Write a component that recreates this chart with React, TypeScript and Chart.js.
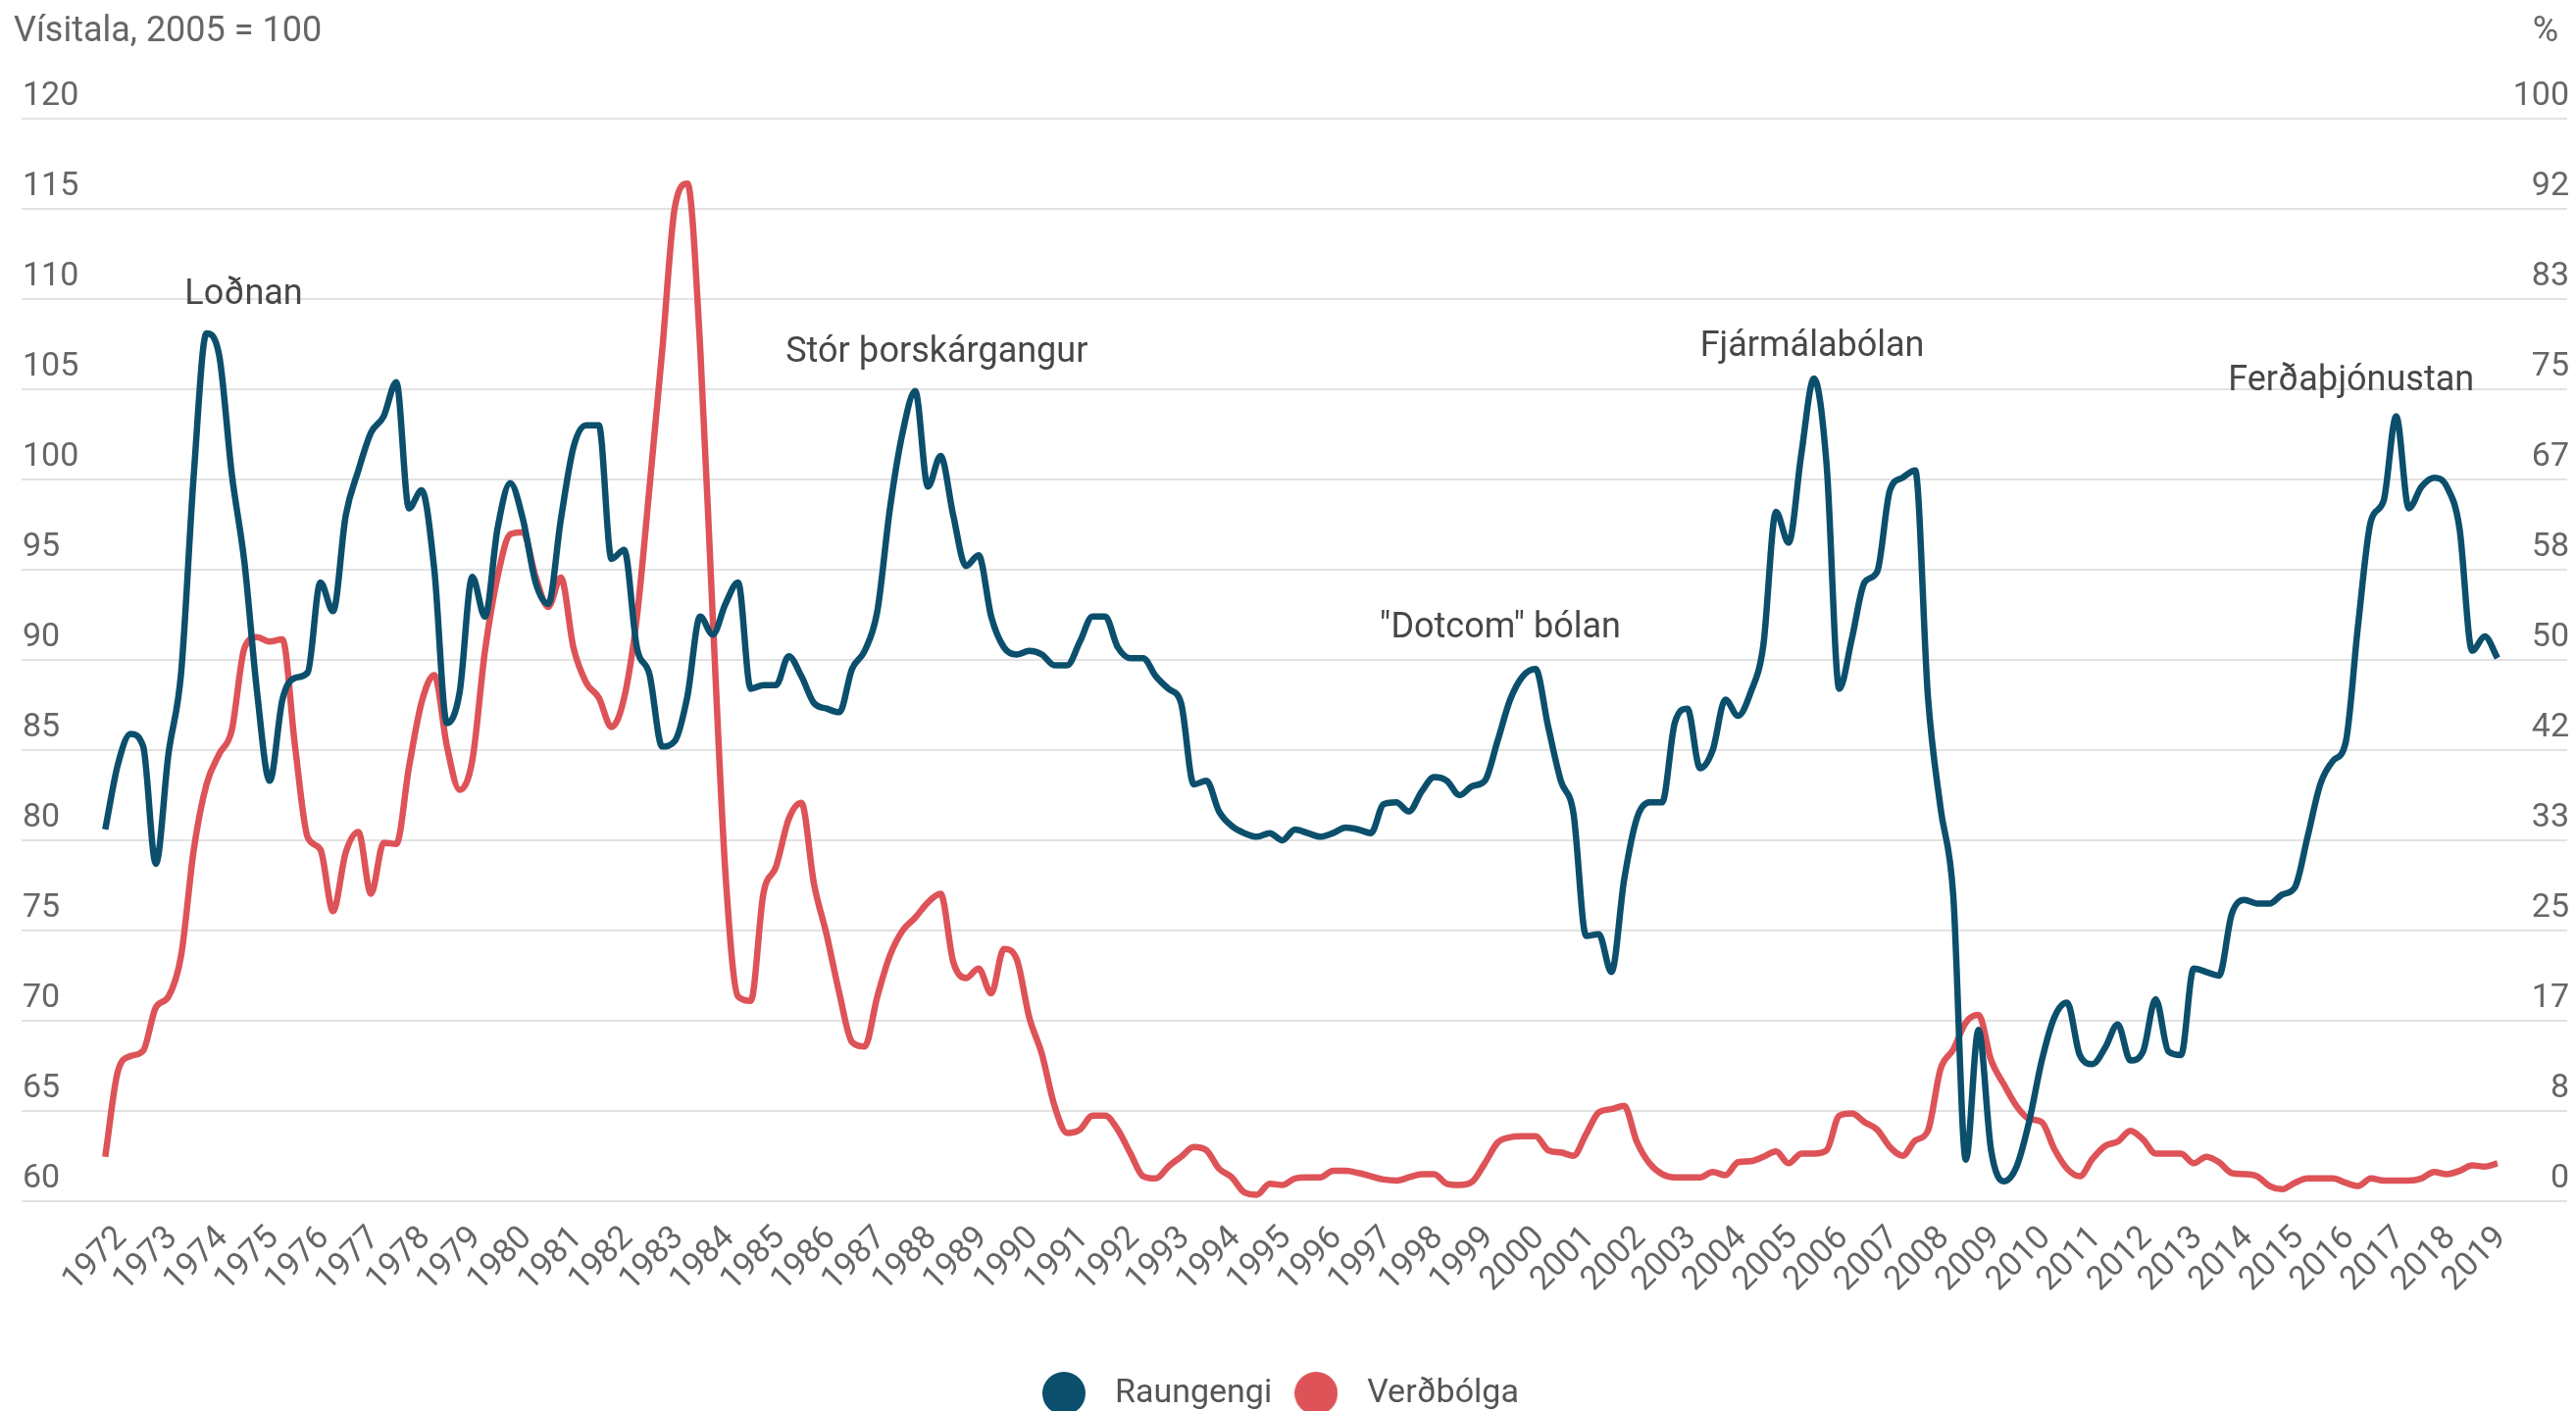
import React, { useEffect, useRef } from "react";
import { Chart, registerables } from "chart.js";

Chart.register(...registerables);

// ---- Data (quarterly, starting 1972 Q1) ----
const START_YEAR = 1972;
const STEPS_PER_YEAR = 4;

const seriesLabels = ["Raungengi", "Verðbólga"];
const seriesColors = ["#0b4f6c", "#dd5357"];

const yearTicks = [
  1972, 1973, 1974, 1975, 1976, 1977, 1978, 1979, 1980, 1981, 1982, 1983,
  1984, 1985, 1986, 1987, 1988, 1989, 1990, 1991, 1992, 1993, 1994, 1995,
  1996, 1997, 1998, 1999, 2000, 2001, 2002, 2003, 2004, 2005, 2006, 2007,
  2008, 2009, 2010, 2011, 2012, 2013, 2014, 2015, 2016, 2017, 2018, 2019,
];

// Raungengi (real exchange rate index, 2005 = 100), left axis
const raungengi = [
  80.6, 84.2, 85.9, 85.2, 78.7, 84.8, 89.3, 100.3, 108.1, 106.9, 100.3, 95.4,
  88.2, 83.3, 87.8, 89.0, 89.3, 94.3, 92.7, 98.0, 100.5, 102.6, 103.5, 105.4,
  98.4, 99.4, 95.0, 86.5, 88.2, 94.6, 92.4, 97.3, 99.8, 97.8, 94.3, 93.1,
  97.8, 101.8, 103.0, 103.0, 95.6, 96.1, 90.7, 89.2, 85.2, 85.5, 88.0, 92.4,
  91.4, 93.1, 94.3, 88.4, 88.6, 88.6, 90.2, 89.1, 87.6, 87.3, 87.1, 89.5,
  90.5, 92.7, 98.4, 102.6, 104.9, 99.6, 101.3, 98.0, 95.2, 95.8, 92.4, 90.7,
  90.3, 90.5, 90.3, 89.7, 89.7, 91.0, 92.4, 92.4, 90.7, 90.1, 90.1, 89.1,
  88.4, 87.6, 83.1, 83.3, 81.6, 80.8, 80.4, 80.2, 80.4, 80.0, 80.6, 80.4,
  80.2, 80.4, 80.7, 80.6, 80.4, 82.0, 82.1, 81.6, 82.7, 83.5, 83.3, 82.5,
  83.0, 83.3, 85.5, 87.8, 89.1, 89.5, 86.3, 83.3, 81.5, 74.7, 74.8, 72.7,
  77.8, 81.2, 82.1, 82.1, 86.5, 87.3, 84.0, 85.0, 87.8, 86.9, 88.2, 90.8,
  98.2, 96.5, 101.4, 105.6, 100.8, 88.4, 91.2, 94.3, 94.9, 99.4, 100.1, 100.5,
  88.0, 81.8, 77.0, 62.3, 69.5, 62.8, 61.1, 61.9, 64.4, 67.8, 70.2, 71.0,
  68.1, 67.6, 68.5, 69.8, 67.8, 68.3, 71.2, 68.3, 68.1, 72.9, 72.7, 72.5,
  75.9, 76.7, 76.5, 76.5, 77.0, 77.4, 80.2, 83.1, 84.4, 85.4, 92.0, 97.7,
  98.8, 103.5, 98.4, 99.6, 100.1, 99.6, 97.3, 90.5, 91.3, 90.1,
];

// Verðbólga (inflation, %), right axis
const verdbolga = [
  4.1, 12.0, 13.4, 13.9, 17.9, 18.9, 22.7, 32.5, 38.5, 41.3, 43.5, 51.1,
  52.1, 51.7, 51.9, 42.0, 33.6, 32.5, 26.8, 32.2, 34.1, 28.4, 33.1, 33.0,
  40.1, 46.1, 48.6, 42.0, 38.0, 40.7, 50.8, 57.7, 61.6, 61.8, 57.7, 54.9,
  57.6, 51.1, 47.9, 46.5, 43.8, 46.5, 53.9, 65.9, 78.5, 91.8, 94.0, 79.0,
  53.9, 30.3, 18.9, 18.5, 28.4, 30.9, 35.3, 36.8, 29.3, 24.6, 19.2, 14.7,
  14.3, 18.9, 22.7, 25.0, 26.2, 27.6, 28.4, 22.1, 20.6, 21.5, 19.2, 23.3,
  22.4, 17.0, 13.6, 8.8, 6.3, 6.6, 7.9, 7.9, 6.6, 4.4, 2.3, 2.1,
  3.2, 4.1, 5.0, 4.7, 3.0, 2.2, 0.8, 0.6, 1.6, 1.5, 2.1, 2.2,
  2.2, 2.8, 2.8, 2.6, 2.3, 2.0, 1.9, 2.2, 2.5, 2.5, 1.6, 1.5,
  1.8, 3.5, 5.4, 5.9, 6.0, 6.0, 4.7, 4.5, 4.2, 6.2, 8.2, 8.5,
  8.8, 5.5, 3.5, 2.5, 2.2, 2.2, 2.2, 2.7, 2.4, 3.6, 3.7, 4.1,
  4.6, 3.5, 4.4, 4.4, 4.7, 7.9, 8.1, 7.3, 6.6, 5.0, 4.2, 5.6,
  6.5, 12.2, 14.0, 16.5, 17.2, 13.0, 10.8, 8.8, 7.6, 7.3, 4.8, 3.0,
  2.3, 3.9, 5.1, 5.5, 6.5, 5.7, 4.4, 4.4, 4.4, 3.5, 4.1, 3.6,
  2.6, 2.5, 2.3, 1.4, 1.1, 1.7, 2.1, 2.1, 2.1, 1.7, 1.4, 2.1,
  1.9, 1.9, 1.9, 2.1, 2.7, 2.5, 2.8, 3.3, 3.2, 3.5,
];

const annotationTexts = [
  "Loðnan",
  "Stór þorskárgangur",
  "\"Dotcom\" bólan",
  "Fjármálabólan",
  "Ferðaþjónustan",
];
const annotationYears = [1973.57, 1985.44, 1997.17, 2003.5, 2013.93];
const annotationValues = [110.2, 107.0, 91.72, 107.35, 105.45];

const leftAxisTitle = "Vísitala, 2005 = 100";
const rightAxisTitle = "%";

// ---- Layout constants ----
const CANVAS_W = 2627;
const CANVAS_H = 1448;
const X_MIN = 1970.348;
const X_MAX = 2020.627;
const FONT = "Roboto, 'Noto Sans', sans-serif";

function makeDot(color: string) {
  const c = document.createElement("canvas");
  c.width = 44;
  c.height = 44;
  const g = c.getContext("2d")!;
  g.fillStyle = color;
  g.beginPath();
  g.arc(22, 22, 22, 0, Math.PI * 2);
  g.fill();
  return c;
}

const overlayPlugin = {
  id: "overlayText",
  afterDatasetsDraw(chart: any) {
    const { ctx, chartArea } = chart;
    const x = chart.scales.x;
    const y = chart.scales.y;
    ctx.save();
    ctx.textBaseline = "middle";
    ctx.fillStyle = "#474747";
    ctx.font = `36px ${FONT}`;
    ctx.textAlign = "left";
    annotationTexts.forEach((t, i) => {
      ctx.fillText(
        t,
        x.getPixelForValue(annotationYears[i]),
        y.getPixelForValue(annotationValues[i])
      );
    });
    ctx.font = `36px ${FONT}`;
    ctx.fillStyle = "#666666";
    ctx.textAlign = "left";
    ctx.fillText(leftAxisTitle, chartArea.left - 8, chartArea.top - 88);
    ctx.textAlign = "right";
    ctx.fillText(rightAxisTitle, chartArea.right - 9, chartArea.top - 88);
    ctx.restore();
  },
};

export default function App() {
  const canvasRef = useRef<HTMLCanvasElement | null>(null);

  useEffect(() => {
    let chart: Chart | null = null;
    let cancelled = false;

    const build = () => {
      if (cancelled || !canvasRef.current) return;
      Chart.defaults.font.family = FONT;
      Chart.defaults.color = "#666666";
      const seriesValues = [raungengi, verdbolga];
      const axisIds = ["y", "y1"];
      chart = new Chart(canvasRef.current, {
        type: "line",
        data: {
          datasets: seriesValues.map((vals, s) => ({
            label: seriesLabels[s],
            data: vals.map((v, i) => ({ x: START_YEAR + i / STEPS_PER_YEAR, y: v })),
            borderColor: seriesColors[s],
            backgroundColor: seriesColors[s],
            borderWidth: 6.5,
            pointRadius: 0,
            pointHoverRadius: 0,
            pointStyle: makeDot(seriesColors[s]) as any,
            cubicInterpolationMode: "monotone" as const,
            fill: false,
            yAxisID: axisIds[s],
          })),
        },
        options: {
          responsive: false,
          animation: false,
          devicePixelRatio: 1,
          events: [],
          layout: { padding: { top: 121, left: 20, right: 5, bottom: 0 } },
          plugins: {
            legend: {
              position: "bottom",
              labels: {
                usePointStyle: true,
                pointStyleWidth: 70,
                boxHeight: 34,
                padding: 10,
                color: "#555555",
                font: { size: 34 },
                generateLabels: (chart: any) => {
                  const items = Chart.defaults.plugins.legend.labels.generateLabels(chart);
                  // trailing spacing balances the legend block the way the original is centred
                  return items.map((it: any, i: number) =>
                    i === items.length - 1 ? { ...it, text: it.text + "\u2002\u2002 " } : it
                  );
                },
              },
            },
            tooltip: { enabled: false },
            title: { display: false },
          },
          scales: {
            x: {
              type: "linear",
              min: X_MIN,
              max: X_MAX,
              grid: { display: false },
              border: { display: false },
              afterBuildTicks: (scale: any) => {
                scale.ticks = yearTicks.map((v) => ({ value: v }));
              },
              afterFit: (scale: any) => {
                scale.height = 169;
              },
              ticks: {
                autoSkip: false,
                minRotation: 45,
                maxRotation: 45,
                padding: 10,
                labelOffset: 17,
                color: "#666666",
                font: { size: 34 },
                callback: (v: any) => String(v),
              },
            },
            y: {
              position: "left",
              min: 60,
              max: 120,
              grid: { color: "#e2e2e2", lineWidth: 2, drawTicks: false },
              border: { display: false },
              ticks: {
                stepSize: 5,
                mirror: true,
                padding: 1,
                labelOffset: -23,
                color: "#666666",
                font: { size: 34 },
              },
            },
            y1: {
              position: "right",
              min: 0,
              max: 100,
              grid: { display: false, drawTicks: false },
              border: { display: false },
              ticks: {
                count: 13,
                mirror: true,
                padding: 2,
                labelOffset: -23,
                color: "#666666",
                font: { size: 34 },
                callback: (v: any) => String(Math.round(Number(v))),
              },
            },
          },
        },
        plugins: [overlayPlugin],
      });
    };

    const fontsReady = (document as any).fonts
      ? Promise.all([
          (document as any).fonts.load(`34px Roboto`),
          (document as any).fonts.load(`36px Roboto`),
        ]).catch(() => null)
      : Promise.resolve(null);
    fontsReady.then(build);

    return () => {
      cancelled = true;
      if (chart) chart.destroy();
    };
  }, []);

  return (
    <div
      style={{
        position: "fixed",
        left: 0,
        top: 0,
        width: CANVAS_W,
        height: 1439,
        overflow: "hidden",
        background: "#ffffff",
      }}
    >
      <canvas
        ref={canvasRef}
        width={CANVAS_W}
        height={CANVAS_H}
        style={{ display: "block", width: CANVAS_W, height: CANVAS_H }}
      />
    </div>
  );
}
